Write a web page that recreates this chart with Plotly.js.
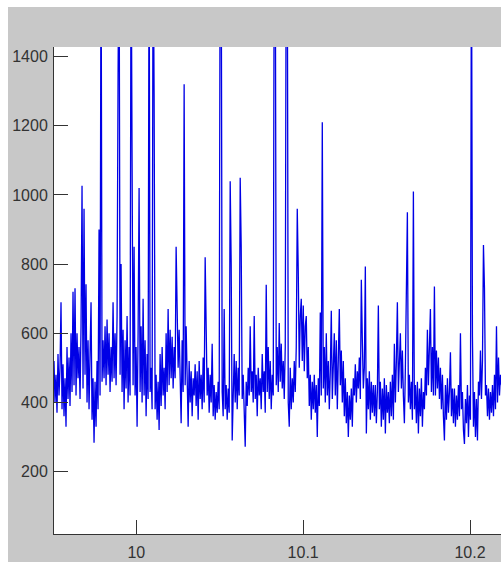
<!DOCTYPE html>
<html>
<head>
<meta charset="utf-8">
<script src="https://cdn.plot.ly/plotly-3.0.1.min.js"></script>
<style>
  html, body { margin: 0; padding: 0; background: #ffffff; width: 501px; height: 562px; overflow: hidden; }
  #chart { position: absolute; left: 8px; top: 7px; width: 493px; height: 555px; }
</style>
</head>
<body>
<div id="chart"></div>
<script>
// Sampling of the signal (uniform time base)
var xStart = 9.95067;
var xStep = 0.0006;

// Signal values
var signal = [
  520, 400, 480, 370, 540, 420, 500, 690, 380, 510, 360, 470, 330, 560, 410, 530, 390, 600, 430, 720,
  450, 730, 420, 600, 470, 560, 410, 620, 1027, 440, 960, 480, 742, 400, 580, 380, 540, 690, 350, 470,
  283, 460, 330, 520, 380, 900, 420, 1800, 460, 580, 470, 620, 450, 640, 480, 600, 430, 560, 460, 690,
  470, 600, 450, 650, 1350, 1800, 480, 800, 430, 610, 380, 580, 440, 650, 400, 560, 420, 1800, 1100, 450,
  850, 420, 560, 330, 600, 1020, 430, 620, 400, 700, 420, 580, 360, 540, 410, 1800, 430, 500, 380, 1800,
  1290, 380, 480, 350, 460, 320, 540, 390, 560, 420, 500, 380, 600, 430, 670, 450, 610, 470, 590, 440,
  560, 470, 850, 680, 500, 610, 470, 340, 580, 430, 1320, 450, 620, 400, 330, 520, 400, 490, 360, 470,
  420, 510, 390, 490, 350, 520, 410, 480, 380, 530, 400, 820, 660, 420, 500, 370, 480, 400, 570, 360,
  450, 350, 430, 370, 460, 380, 1800, 1800, 430, 360, 670, 380, 450, 350, 440, 370, 1040, 800, 290, 480,
  540, 400, 520, 380, 500, 420, 1050, 850, 410, 480, 350, 272, 460, 390, 500, 420, 620, 430, 490, 400,
  650, 410, 480, 360, 500, 420, 470, 380, 540, 430, 490, 370, 740, 430, 560, 410, 520, 380, 480, 420,
  1800, 1800, 450, 560, 430, 630, 460, 570, 440, 520, 410, 560, 1800, 1800, 400, 330, 500, 380, 470, 400,
  520, 430, 560, 960, 780, 500, 650, 700, 520, 680, 490, 620, 650, 470, 560, 390, 480, 350, 460, 380,
  480, 370, 450, 300, 470, 390, 660, 420, 1210, 440, 560, 400, 600, 420, 520, 380, 490, 665, 410, 520,
  600, 420, 580, 380, 530, 670, 450, 550, 400, 520, 360, 470, 340, 430, 300, 420, 350, 440, 330, 470,
  420, 510, 400, 490, 440, 530, 410, 755, 580, 440, 500, 793, 310, 470, 380, 490, 350, 460, 370, 450,
  360, 450, 340, 430, 680, 380, 460, 330, 440, 350, 470, 310, 450, 370, 430, 340, 460, 360, 480, 350,
  570, 400, 520, 690, 430, 560, 600, 440, 550, 420, 340, 500, 790, 950, 400, 480, 380, 460, 350, 1010,
  380, 450, 340, 460, 310, 440, 360, 470, 330, 430, 380, 500, 420, 610, 450, 540, 670, 430, 560, 420,
  735, 420, 550, 440, 530, 410, 500, 380, 480, 360, 290, 450, 350, 470, 370, 430, 545, 360, 440, 340,
  440, 330, 420, 350, 450, 360, 600, 380, 430, 320, 280, 410, 340, 450, 300, 420, 350, 1800, 590, 330,
  430, 300, 410, 290, 460, 420, 550, 410, 520, 855, 730, 420, 450, 360, 440, 350, 430, 370, 450, 360,
  480, 380, 620, 400, 530, 420, 480, 450
];

var xTickVals = [10, 10.1, 10.2];
var xTickText = ['10', '10.1', '10.2'];
var yTickVals = [200, 400, 600, 800, 1000, 1200, 1400];
var yTickText = ['200', '400', '600', '800', '1000', '1200', '1400'];

var xs = signal.map(function (v, i) { return xStart + i * xStep; });

var trace = {
  x: xs,
  y: signal,
  type: 'scatter',
  mode: 'lines',
  line: { color: '#0000e6', width: 1.3 },
  hoverinfo: 'skip'
};

var axisFont = { family: 'Arial, "Liberation Sans", sans-serif', size: 16, color: '#333333' };

var layout = {
  width: 493,
  height: 555,
  margin: { l: 46, r: 0, t: 40, b: 28, pad: 0 },
  paper_bgcolor: '#c8c8c8',
  plot_bgcolor: '#ffffff',
  showlegend: false,
  xaxis: {
    range: [9.95067, 10.21858],
    tickmode: 'array',
    tickvals: xTickVals,
    ticktext: xTickText,
    ticks: 'inside',
    ticklen: 14,
    tickwidth: 1,
    tickcolor: '#333333',
    showline: true,
    linecolor: '#333333',
    linewidth: 1,
    showgrid: false,
    zeroline: false,
    tickfont: axisFont,
    ticklabelstandoff: 4
  },
  yaxis: {
    range: [19.4, 1428],
    tickmode: 'array',
    tickvals: yTickVals,
    ticktext: yTickText,
    ticks: 'inside',
    ticklen: 14,
    tickwidth: 1,
    tickcolor: '#333333',
    showline: true,
    linecolor: '#333333',
    linewidth: 1,
    showgrid: false,
    zeroline: false,
    tickfont: axisFont,
    ticklabelstandoff: 2
  }
};

Plotly.newPlot('chart', [trace], layout, { staticPlot: true, displayModeBar: false });
</script>
</body>
</html>
